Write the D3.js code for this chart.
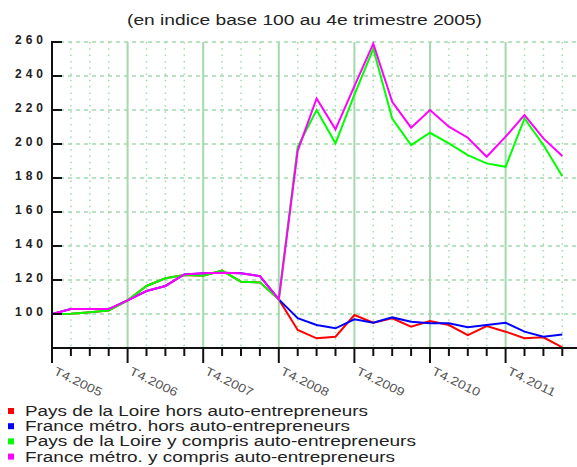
<!DOCTYPE html>
<html><head><meta charset="utf-8">
<script src="https://cdn.jsdelivr.net/npm/d3@7"></script>
<style>body{margin:0;background:#fff}svg{display:block}</style>
</head><body>
<svg id="c" width="577" height="467"></svg>
<script>
const title = "(en indice base 100 au 4e trimestre 2005)";
const quarterCount = 28; // T4.2005 .. T3.2012
const xTickLabels = ["T4.2005","T4.2006","T4.2007","T4.2008","T4.2009","T4.2010","T4.2011"];
const yTicks = [100,120,140,160,180,200,220,240,260];
const seriesNames = [
  "Pays de la Loire hors auto-entrepreneurs",
  "France métro. hors auto-entrepreneurs",
  "Pays de la Loire y compris auto-entrepreneurs",
  "France métro. y compris auto-entrepreneurs"
];
const seriesColors = ["#ff0000","#0000ff","#00ff00","#ff00ff"];
const plRedHors   = [100,100.2,101,102,108,116.5,121,123,122.5,125.5,119,118.6,108.6,
                     90.6,85.7,86.6,99.4,94.9,97.5,92.5,95.9,93.5,87.6,92.9,89.6,85.7,86.3,80.4];
const frBlueHors  = [100,102.9,102.9,102.9,108,113.5,116.5,123.3,123.9,124.3,123.9,122.3,108.6,
                     97.5,93.5,91.6,96.9,94.9,98,95.5,94.5,94.5,92.2,93.5,94.9,89.6,86.6,88];
const plGreenYc   = [100,100.2,101,102,108,116.5,121,123,122.5,125.5,119,118.6,108.6,
                     198.4,220,200.4,229,256,215,199.4,206.6,200.4,193.5,188.6,186.6,215,199.4,181];
const frMagYc     = [100,102.9,102.9,102.9,108,113.5,116.5,123.3,123.9,124.3,123.9,122.3,108.6,
                     196,226.8,208.6,234,259,224.8,209.6,220,210.2,203.7,192.5,204.3,217,203.3,192.9];
const allSeries = [plRedHors, frBlueHors, plGreenYc, frMagYc];

(function(){
const svg = d3.select("#c");
const pL = 52, pR = 577, pT = 42, pB = 348;
const x = d3.scaleLinear().domain([0, quarterCount - 1]).range([pL, 562.3]);
const y = d3.scaleLinear().domain([80, 260]).range([pB, pT]);
const idx = d3.range(quarterCount);
const gridCol = "#a3d9ad";

// title
svg.append("text").attr("x", 127).attr("y", 25).attr("font-family","Liberation Sans, Arial, sans-serif")
  .attr("font-size", 14).attr("fill","#222").attr("textLength", 355).attr("lengthAdjust","spacingAndGlyphs").text(title);

// horizontal dashed grid
svg.append("g").selectAll("line").data(yTicks).join("line")
  .attr("x1", pL).attr("x2", pR).attr("y1", d=>y(d)).attr("y2", d=>y(d))
  .attr("stroke", gridCol).attr("stroke-width",1.5).attr("stroke-dasharray","4,4");
// vertical quarterly dotted grid
svg.append("g").selectAll("line").data(idx.filter(i=>i%4!==0)).join("line")
  .attr("x1", d=>x(d)).attr("x2", d=>x(d)).attr("y1", pT).attr("y2", pB)
  .attr("stroke", gridCol).attr("stroke-width",1.5).attr("stroke-dasharray","1.5,4.8");
// vertical yearly solid grid
svg.append("g").selectAll("line").data(idx.filter(i=>i%4===0 && i>0)).join("line")
  .attr("x1", d=>x(d)).attr("x2", d=>x(d)).attr("y1", pT).attr("y2", pB)
  .attr("stroke", gridCol).attr("stroke-width",2);

// lines
const line = d3.line().x((d,i)=>x(i)).y(d=>y(d));
allSeries.forEach((s,k)=>{
  svg.append("path").datum(s).attr("d", line).attr("fill","none")
    .attr("stroke", seriesColors[k]).attr("stroke-width", 2).attr("stroke-linejoin","miter");
});

// axes
const ax = svg.append("g").attr("stroke","#111").attr("stroke-width",2);
ax.append("line").attr("x1", pL).attr("x2", pL).attr("y1", pT - 1).attr("y2", 363);
ax.append("line").attr("x1", pL - 1).attr("x2", pR).attr("y1", pB).attr("y2", pB);
ax.selectAll(".yt").data(yTicks).join("line").attr("class","yt")
  .attr("x1", pL).attr("x2", pL + 10).attr("y1", d=>y(d)).attr("y2", d=>y(d));
ax.selectAll(".xt").data(idx.filter(i=>i>0)).join("line").attr("class","xt")
  .attr("x1", d=>x(d)).attr("x2", d=>x(d)).attr("y1", pB).attr("y2", d=> d%4===0 ? 363 : 356);

// y labels
svg.append("g").selectAll("text").data(yTicks).join("text")
  .attr("x", 43).attr("y", d=>y(d)+2).attr("text-anchor","end")
  .attr("font-family","Liberation Sans, Arial, sans-serif").attr("font-size",12).attr("font-weight","bold")
  .attr("fill","#222").attr("textLength", 28).attr("lengthAdjust","spacing").text(d=>d);

// x labels
svg.append("g").selectAll("text").data(xTickLabels).join("text")
  .attr("transform",(d,i)=>`translate(${x(i*4)+1},374) rotate(26)`)
  .attr("font-family","Liberation Sans, Arial, sans-serif").attr("font-size",12)
  .attr("fill","#555").attr("textLength", 52).attr("lengthAdjust","spacingAndGlyphs").text(d=>d);

// legend
const legendEnds = [368, 350, 416, 395];
const lg = svg.append("g");
seriesNames.forEach((n,k)=>{
  const by = 416 + k*15.2;
  lg.append("rect").attr("x", 8).attr("y", by - 8).attr("width", 6).attr("height", 6).attr("fill", seriesColors[k]);
  lg.append("text").attr("x", 25).attr("y", by).attr("font-family","Liberation Sans, Arial, sans-serif")
    .attr("font-size", 14).attr("fill","#222").attr("textLength", legendEnds[k]-25)
    .attr("lengthAdjust","spacingAndGlyphs").text(n);
});
})();
</script>
</body></html>
